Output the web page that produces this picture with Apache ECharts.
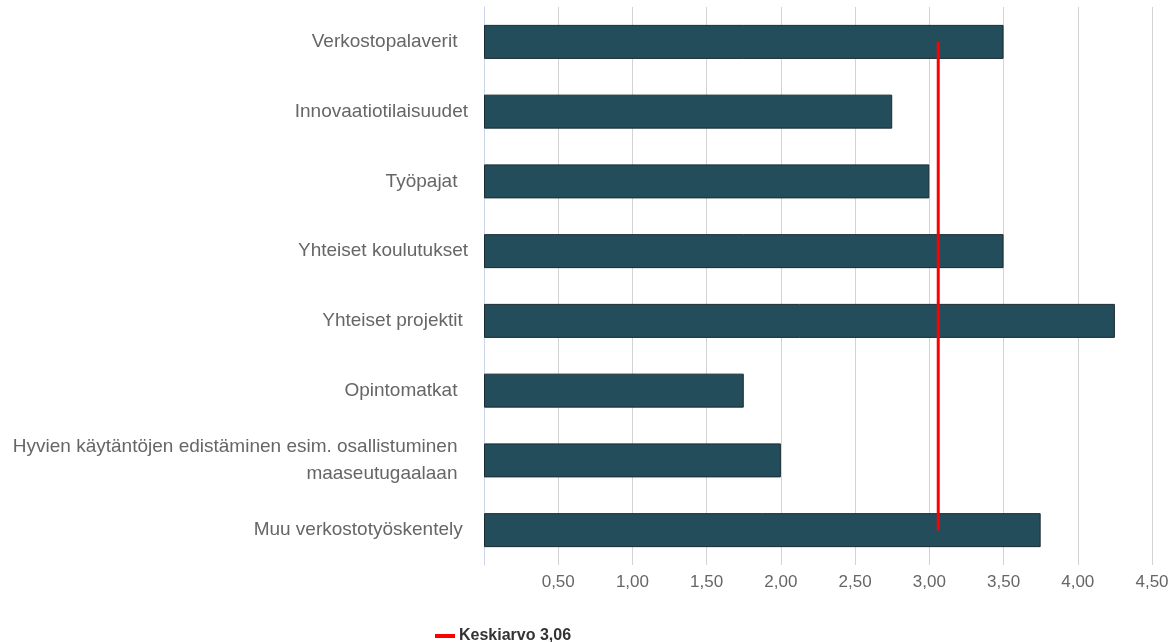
<!DOCTYPE html>
<html>
<head>
<meta charset="utf-8">
<script src="https://cdn.jsdelivr.net/npm/echarts@6/dist/echarts.min.js"></script>
<style>
  html, body { margin: 0; padding: 0; background: #fff; }
  #chart { width: 1168px; height: 642px; }
</style>
</head>
<body>
<div id="chart"></div>
<script>
// kategoriat (ylhäältä alas)
const categories = [
  'Verkostopalaverit  ',
  'Innovaatiotilaisuudet',
  'Työpajat  ',
  'Yhteiset koulutukset',
  'Yhteiset projektit ',
  'Opintomatkat  ',
  'Hyvien käytäntöjen edistäminen esim. osallistuminen  \nmaaseutugaalaan  ',
  'Muu verkostotyöskentely '
]
const values = [3.5, 2.75, 3.0, 3.5, 4.25, 1.75, 2.0, 3.75]
const meanValue = 3.06
const meanName = 'Keskiarvo 3,06'
const xTicks = [0, 0.5, 1, 1.5, 2, 2.5, 3, 3.5, 4, 4.5]

const chart = echarts.init(document.getElementById('chart'))
chart.setOption({
  animation: false,
  textStyle: { fontFamily: 'Liberation Sans, Arial, sans-serif' },
  grid: {
    left: 484,
    right: 16,
    top: 7,
    bottom: 77,
    containLabel: false,
    outerBoundsMode: 'none'
  },
  legend: {
    data: [meanName],
    left: 430,
    top: 623,
    icon: 'rect',
    itemWidth: 20,
    itemHeight: 4,
    itemGap: 6,
    textStyle: {
      color: '#333',
      fontWeight: 'bold',
      fontSize: 16,
      padding: [0, 0, 0, -1]
    }
  },
  xAxis: {
    type: 'value',
    min: xTicks[0],
    max: xTicks[xTicks.length - 1],
    interval: 0.5,
    axisLine: { show: false },
    axisTick: { show: false },
    axisLabel: {
      color: '#666',
      fontSize: 17,
      margin: 9,
      formatter: function (v) {
        if (v === 0) return ''
        return v.toFixed(2).replace('.', ',')
      }
    },
    splitLine: {
      show: true,
      lineStyle: { color: '#d3d3d3', width: 1 }
    }
  },
  yAxis: {
    type: 'category',
    inverse: true,
    data: categories,
    axisLine: {
      show: true,
      lineStyle: { color: '#ccd6eb', width: 1 }
    },
    axisTick: { show: false },
    axisLabel: {
      color: '#666',
      fontSize: 19,
      margin: 16,
      lineHeight: 27,
      align: 'right'
    },
    splitLine: { show: false }
  },
  series: [
    {
      name: 'Arvo',
      type: 'bar',
      data: values,
      barWidth: 34,
      itemStyle: {
        color: '#234d5a',
        borderColor: '#1a2b32',
        borderWidth: 1
      },
      z: 2
    },
    {
      name: meanName,
      type: 'line',
      data: [
        [meanValue, categories[0]],
        [meanValue, categories[categories.length - 1]]
      ],
      symbol: 'none',
      lineStyle: { color: '#ff0000', width: 3 },
      itemStyle: { color: '#ff0000' },
      z: 5
    }
  ]
})
</script>
</body>
</html>
